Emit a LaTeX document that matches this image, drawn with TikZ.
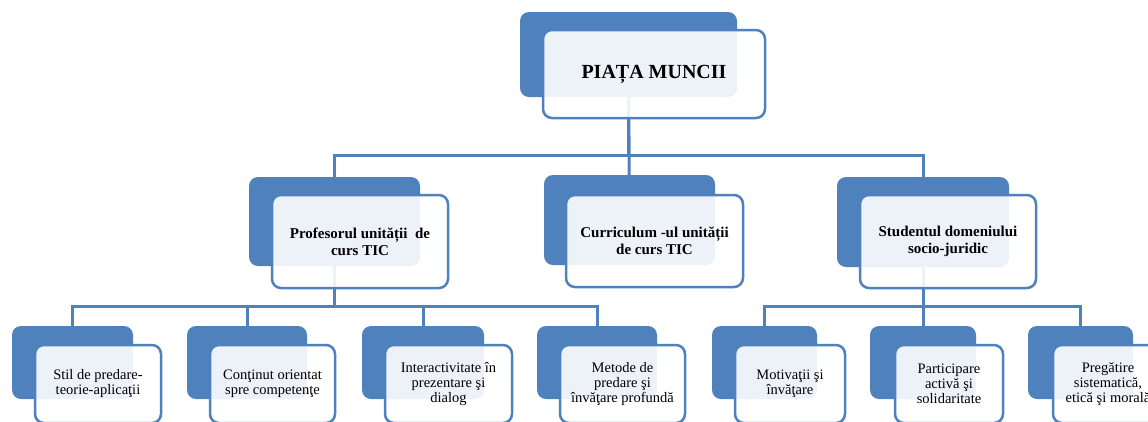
\documentclass[tikz,border=0pt]{standalone}
\usepackage{fontspec}
\setmainfont{Liberation Serif}
\usetikzlibrary{backgrounds}
\definecolor{accent}{HTML}{4F81BD}
\begin{document}
\begin{tikzpicture}[x=1pt,y=-1pt,
  backbox/.style={fill=accent, rounded corners=9pt, inner sep=0pt, outer sep=0pt, anchor=north west},
  frontbox/.style={draw=accent, line width=2.5pt, fill=white, fill opacity=0.9, text opacity=1,
    rounded corners=9pt, inner sep=0pt, outer sep=0pt, anchor=north west, align=center, text=black},
  conn/.style={draw=accent, line width=3pt},
  lone/.style={font=\fontsize{20}{22}\selectfont\bfseries},
  ltwo/.style={font=\fontsize{15}{17}\selectfont\bfseries},
  lthree/.style={font=\fontsize{14.5}{15}\selectfont},
]
\useasboundingbox (0,0) rectangle (1148,421);
\clip (0,0) rectangle (1148,421);

% top
\node[backbox, minimum width=217pt, minimum height=85pt] (topB) at (520,12) {};
\node[frontbox, lone, minimum width=222pt, minimum height=88pt] (top) at (543,30) {PIAȚA MUNCII};

% level 2
\node[backbox, minimum width=171pt, minimum height=89pt] (profB) at (249,177) {};
\node[frontbox, ltwo, minimum width=176pt, minimum height=93pt] (prof) at (272,195) {Profesorul unității\ \ de\\curs TIC};

\node[backbox, minimum width=171pt, minimum height=90pt] (currB) at (544,175) {};
\node[frontbox, ltwo, minimum width=177pt, minimum height=92pt] (curr) at (566,195) {Curriculum -ul unității\\de curs TIC};

\node[backbox, minimum width=172pt, minimum height=90pt] (studB) at (837,177) {};
\node[frontbox, ltwo, minimum width=176pt, minimum height=93pt] (stud) at (860,195) {Studentul domeniului\\socio-juridic};

% level 3
\node[backbox, minimum width=121pt, minimum height=73pt] (s1B) at (12,326) {};
\node[frontbox, lthree, minimum width=126pt, minimum height=78pt] (s1) at (35,345) {Stil de predare-\\teorie-aplicaţii};

\node[backbox, minimum width=120pt, minimum height=73pt] (s2B) at (187,326) {};
\node[frontbox, lthree, minimum width=125pt, minimum height=78pt] (s2) at (210,345) {Conţinut orientat\\spre competenţe};

\node[backbox, minimum width=122pt, minimum height=73pt] (s3B) at (362,326) {};
\node[frontbox, lthree, minimum width=127pt, minimum height=78pt] (s3) at (385,345) {Interactivitate în\\prezentare şi\\dialog};

\node[backbox, minimum width=120pt, minimum height=73pt] (s4B) at (537,326) {};
\node[frontbox, lthree, minimum width=125pt, minimum height=78pt] (s4) at (560,345) {Metode de\\predare şi\\învăţare profundă};

\node[backbox, minimum width=105pt, minimum height=73pt] (s5B) at (712,326) {};
\node[frontbox, lthree, minimum width=110pt, minimum height=78pt] (s5) at (735,345) {Motivaţii şi\\învăţare};

\node[backbox, minimum width=106pt, minimum height=73pt] (s6B) at (870,326) {};
\node[frontbox, lthree, minimum width=108pt, minimum height=78pt] (s6) at (895,345) {Participare\\activă şi\\solidaritate};

\node[backbox, minimum width=105pt, minimum height=73pt] (s7B) at (1028,326) {};
\node[frontbox, lthree, minimum width=110pt, minimum height=78pt] (s7) at (1053,345) {Pregătire\\sistematică,\\etică şi morală};

\coordinate (busA) at (0,155);
\coordinate (busB) at (0,306);

\begin{scope}[on background layer]
\draw[conn] (topB.center) -- (topB.center |- busA) -| (profB.center);
\draw[conn] (topB.center |- busA) -| (studB.center);
\draw[conn] (topB.center) -- (currB.center);
\draw[conn] (profB.center) -- (profB.center |- busB) -| (s1B.center);
\draw[conn] (s2B.center |- busB) -- (s2B.center);
\draw[conn] (profB.center |- busB) -| (s3B.center);
\draw[conn] (profB.center |- busB) -| (s4B.center);
\draw[conn] (studB.center) -- (studB.center |- busB) -| (s5B.center);
\draw[conn] (studB.center |- busB) -| (s7B.center);
\draw[conn] (studB.center |- busB) -- (s6B.center);
\end{scope}
\end{tikzpicture}
\end{document}
